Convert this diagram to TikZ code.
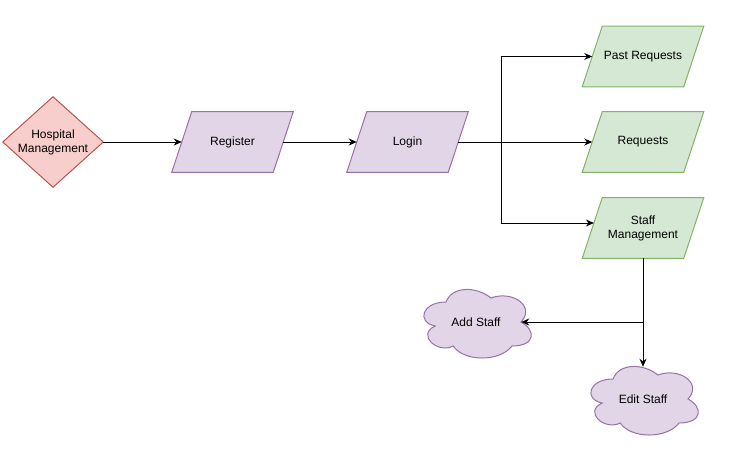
\documentclass[tikz,border=0pt]{standalone}
\usepackage{fontspec}
\setmainfont{Liberation Sans}
\usetikzlibrary{arrows.meta,backgrounds}

\definecolor{redfill}{HTML}{F8CECC}
\definecolor{redline}{HTML}{B85450}
\definecolor{purplefill}{HTML}{E1D5E7}
\definecolor{purpleline}{HTML}{9673A6}
\definecolor{greenfill}{HTML}{D5E8D4}
\definecolor{greenline}{HTML}{82B366}

\tikzset{
  label box/.style={rectangle, inner sep=0pt, align=center},
  slantbox/.style={label box, minimum width=75.75pt, minimum height=45pt},
  decisionbox/.style={label box, minimum width=75pt, minimum height=67.5pt},
  cloudbox/.style={label box, minimum width=67.5pt, minimum height=48pt},
  redshape/.style={fill=redfill, draw=redline, line width=0.75pt},
  purpleshape/.style={fill=purplefill, draw=purpleline, line width=0.75pt},
  greenshape/.style={fill=greenfill, draw=greenline, line width=0.75pt},
  link/.style={draw, line width=0.75pt, -{Stealth[length=6pt,width=5.25pt]}},
  cloudpic/.pic={
    \path[purpleshape] (-30,-20)
      .. controls (-54,-20) and (-60,0) .. (-40.8,4)
      .. controls (-60,12.8) and (-38.4,32) .. (-22.8,24)
      .. controls (-12,40) and (24,40) .. (36,24)
      .. controls (60,24) and (60,8) .. (45,0)
      .. controls (60,-16) and (36,-32) .. (15,-24)
      .. controls (0,-36) and (-24,-36) .. (-30,-20) -- cycle;
  }
}

% parallelogram drawn around a label box
\newcommand\slantshape[2]{%
  \draw[#2] ([xshift=7.5pt]#1.north west) -- ([xshift=7.5pt]#1.north east)
    -- ([xshift=-7.5pt]#1.south east) -- ([xshift=-7.5pt]#1.south west) -- cycle;}

\begin{document}
\begin{tikzpicture}[x=0.75pt, y=-0.75pt, font=\fontsize{9}{10.5}\selectfont]
  \useasboundingbox (0,0) rectangle (746,454);

  % labels
  \node[decisionbox] (hosp) at (53,142) {Hospital\\Management};
  \node[slantbox] (reg) at (232.5,142) {Register};
  \node[slantbox] (login) at (407.5,142) {Login};
  \node[slantbox] (past) at (643,56.5) {Past Requests};
  \node[slantbox] (req) at (643,142) {Requests};
  \node[slantbox] (staff) at (643,228) {Staff\\Management};
  \node[cloudbox] (add) at (476,322) {Add Staff};
  \node[cloudbox] (edit) at (643,399) {Edit Staff};

  % shapes behind the labels
  \begin{scope}[on background layer]
    \draw[redshape] (hosp.north) -- (hosp.east) -- (hosp.south) -- (hosp.west) -- cycle;
    \slantshape{reg}{purpleshape}
    \slantshape{login}{purpleshape}
    \slantshape{past}{greenshape}
    \slantshape{req}{greenshape}
    \slantshape{staff}{greenshape}
    \pic at (add) {cloudpic};
    \pic at (edit) {cloudpic};
  \end{scope}

  % connectors
  \coordinate (split) at (501,142);
  \draw[link] (hosp.east) -- (reg.west);
  \draw[link] (reg.east) -- (login.west);
  \draw[link] (login.east) -- (req.west);
  \draw[link] (split) |- (past.west);
  \draw[link] (split) |- ([xshift=1.25pt,yshift=3.75pt]staff.west);
  \draw[link] (staff.south) -- (edit.north);
  \draw[link] (staff.south) |- (add.east);
\end{tikzpicture}
\end{document}
